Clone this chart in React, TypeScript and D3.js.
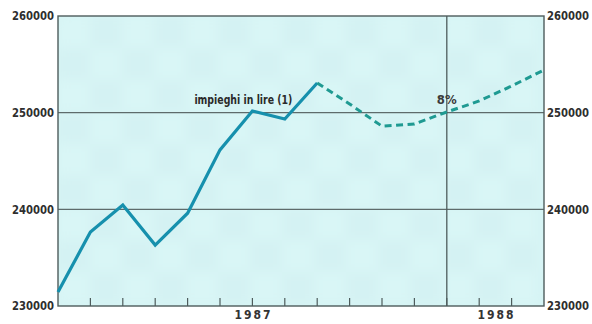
import React from "react";
import * as d3 from "d3";

const months = d3.range(0, 16);
const actualValues = [231450, 237650, 240450, 236300, 239600, 246150, 250170, 249350, 253070];
const forecastValues = [253070, 250900, 248600, 248830, 250070, 251210, 252760, 254410];
const forecastStart = 8;
const yTicks = [230000, 240000, 250000, 260000];
const gridValues = [240000, 250000];
const yearLabels = [
  { label: "1987", pos: 6 },
  { label: "1988", pos: 13.5 },
];
const yearLine = 12;
const seriesLabel = "impieghi in lire (1)";
const growthLabel = "8%";

const W = 592;
const H = 324;
const M = { left: 58, right: 48, top: 16, bottom: 18 };

export default function App() {
  const x = d3.scaleLinear().domain([0, 15]).range([M.left, W - M.right]);
  const y = d3.scaleLinear().domain([230000, 260000]).range([H - M.bottom, M.top]);
  const line = d3
    .line<[number, number]>()
    .x((d) => x(d[0]))
    .y((d) => y(d[1]));
  const actual: [number, number][] = actualValues.map((v, i) => [i, v]);
  const forecast: [number, number][] = forecastValues.map((v, i) => [i + forecastStart, v]);
  const font = "'DejaVu Sans Condensed', 'Liberation Sans', sans-serif";
  const x0 = x(0), x1 = x(15), y0 = y(230000), y1 = y(260000);
  return (
    <svg
      width={W}
      height={H}
      style={{ position: "absolute", left: 0, top: 0, background: "#fff" }}
    >
      <defs>
        <pattern id="halftone" width="64" height="64" patternUnits="userSpaceOnUse" x={x0} y={y1}>
          <rect width="64" height="64" fill="#d4f2f3" />
          <rect width="32" height="32" fill="#d9f6f6" />
          <rect x="32" y="32" width="32" height="32" fill="#d9f6f6" />
        </pattern>
        <filter id="blur" x="0" y="0" width="1" height="1">
          <feGaussianBlur stdDeviation="6" />
        </filter>
      </defs>
      <rect x={x0} y={y1} width={x1 - x0} height={y0 - y1} fill="#d6f4f4" />
      <rect
        x={x0}
        y={y1}
        width={x1 - x0}
        height={y0 - y1}
        fill="url(#halftone)"
        filter="url(#blur)"
      />
      {gridValues.map((v) => (
        <line key={v} x1={x0} x2={x1} y1={y(v)} y2={y(v)} stroke="#5e6b6b" strokeWidth={1.2} />
      ))}
      <line x1={x(yearLine)} x2={x(yearLine)} y1={y1} y2={y0} stroke="#4e5c5c" strokeWidth={1.3} />
      {months.slice(1, 15).map((m) => (
        <line key={m} x1={x(m)} x2={x(m)} y1={y0} y2={y0 - 8} stroke="#4e5c5c" strokeWidth={1.2} />
      ))}
      <rect
        x={x0}
        y={y1}
        width={x1 - x0}
        height={y0 - y1}
        fill="none"
        stroke="#4e5c5c"
        strokeWidth={1.4}
      />
      <path
        d={line(actual) || ""}
        fill="none"
        stroke="#1690ad"
        strokeWidth={3.2}
        strokeLinejoin="miter"
      />
      <path
        d={line(forecast) || ""}
        fill="none"
        stroke="#1f9a92"
        strokeWidth={3}
        strokeDasharray="7 4.5"
      />
      {yTicks.map((v) => (
        <g key={v}>
          <text
            x={x0 - 46}
            y={y(v)}
            dy="0.36em"
            textLength={42}
            lengthAdjust="spacingAndGlyphs"
            fontFamily={font}
            fontWeight="bold"
            fontSize={12}
            fill="#2e2e2e"
          >
            {v}
          </text>
          <text
            x={x1 + 3}
            y={y(v)}
            dy="0.36em"
            textLength={42}
            lengthAdjust="spacingAndGlyphs"
            fontFamily={font}
            fontWeight="bold"
            fontSize={12}
            fill="#2e2e2e"
          >
            {v}
          </text>
        </g>
      ))}
      {yearLabels.map((d) => (
        <text
          key={d.label}
          x={x(d.pos) - 18}
          y={y0 + 13}
          textLength={36}
          lengthAdjust="spacing"
          fontFamily={font}
          fontWeight="bold"
          fontSize={12}
          fill="#333"
        >
          {d.label}
        </text>
      ))}
      <text
        x={x(6) - 58}
        y={y(250000) - 9}
        textLength={98}
        lengthAdjust="spacingAndGlyphs"
        fontFamily={font}
        fontWeight="bold"
        fontSize={12}
        fill="#2a2a2a"
      >
        {seriesLabel}
      </text>
      <text
        x={x(yearLine)}
        y={y(250000) - 9}
        textAnchor="middle"
        fontFamily={font}
        fontWeight="bold"
        fontSize={13}
        fill="#3a3a3a"
      >
        {growthLabel}
      </text>
    </svg>
  );
}
